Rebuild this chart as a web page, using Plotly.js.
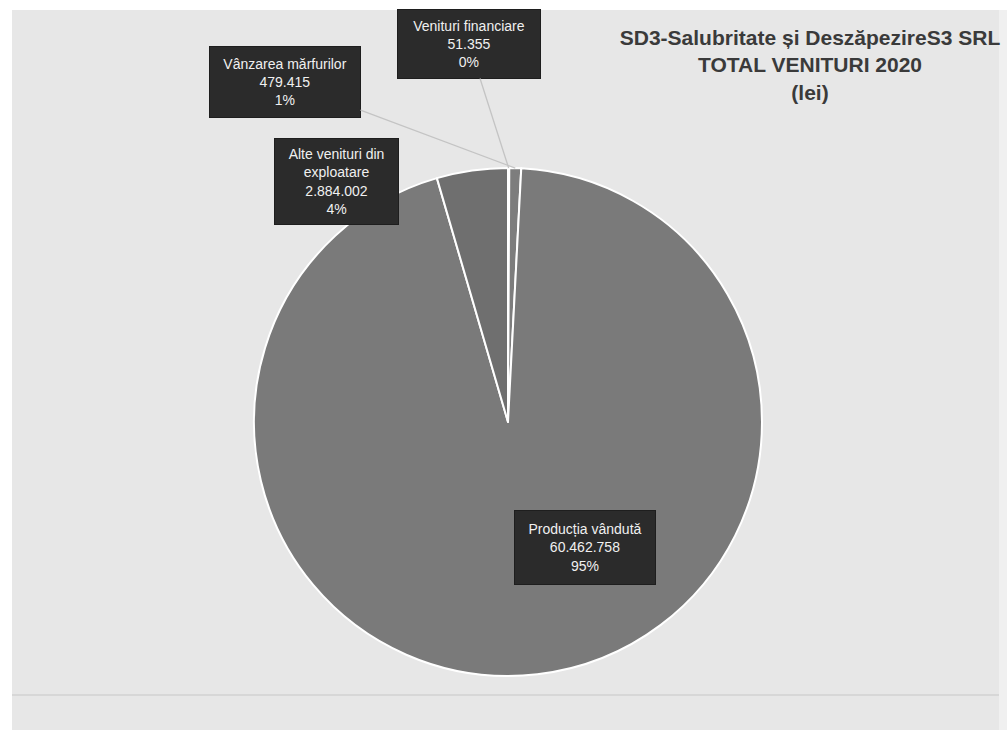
<!DOCTYPE html>
<html>
<head>
<meta charset="utf-8">
<script src="https://cdn.plot.ly/plotly-3.0.1.min.js"></script>
<style>html,body{margin:0;padding:0;background:#fff;}#chart{width:1007px;height:730px;}</style>
</head>
<body>
<div id="chart"></div>
<script>
// Data (clockwise from 12 o'clock)
const categories = ["Venituri financiare", "Vânzarea mărfurilor", "Producția vândută", "Alte venituri din<br>exploatare"];
const values = [51355, 479415, 60462758, 2884002];
const valueLabels = ["51.355", "479.415", "60.462.758", "2.884.002"];
const percentLabels = ["0%", "1%", "95%", "4%"];
const sliceColors = ["#808080", "#7d7d7d", "#7a7a7a", "#6f6f6f"];

const W = 1007, H = 730;
const cxPx = 508, cyPx = 422, rPx = 254;
const domX = [(cxPx - rPx) / W, (cxPx + rPx) / W];
const domY = [1 - (cyPx + rPx) / H, 1 - (cyPx - rPx) / H];

const trace = {
  type: 'pie',
  labels: categories,
  values: values,
  sort: false,
  direction: 'clockwise',
  rotation: 0,
  textinfo: 'none',
  hoverinfo: 'label+value+percent',
  marker: {colors: sliceColors, line: {color: '#ffffff', width: 2}},
  domain: {x: domX, y: domY},
  showlegend: false
};

// label box placement (layout only)
const boxes = [
  {cx: 469, cy: 44, w: 140, h: 66, arrow: true},
  {cx: 285, cy: 82, w: 148, h: 68, arrow: true},
  {cx: 585, cy: 547, w: 138, h: 71, arrow: false},
  {cx: 336, cy: 182, w: 121, h: 83, arrow: false}
];

const total = values.reduce((a, b) => a + b, 0);
let cum = 0;
const annotations = [];
values.forEach((v, i) => {
  const mid = (cum + v / 2) / total * 2 * Math.PI;
  cum += v;
  const px = cxPx + rPx * Math.sin(mid);
  const py = cyPx - rPx * Math.cos(mid);
  const b = boxes[i];
  const text = categories[i] + '<br>' + valueLabels[i] + '<br>' + percentLabels[i];
  const common = {
    text: text,
    font: {family: 'Liberation Sans, Arial, sans-serif', size: 14, color: '#f0f0f0'},
    bgcolor: '#2b2b2b',
    bordercolor: '#1e1e1e',
    borderwidth: 1,
    borderpad: 1,
    width: b.w,
    height: b.h,
    align: 'center',
    valign: 'middle'
  };
  if (b.arrow) {
    annotations.push(Object.assign(common, {
      xref: 'paper', yref: 'paper',
      x: px / W, y: 1 - py / H,
      showarrow: true, arrowhead: 0, arrowwidth: 1.3, arrowcolor: '#c4c4c4',
      axref: 'pixel', ayref: 'pixel',
      ax: b.cx - px, ay: b.cy - py
    }));
  } else {
    annotations.push(Object.assign(common, {
      xref: 'paper', yref: 'paper',
      x: b.cx / W, y: 1 - b.cy / H,
      xanchor: 'center', yanchor: 'middle',
      showarrow: false
    }));
  }
});

const layout = {
  width: W, height: H,
  margin: {l: 0, r: 0, t: 0, b: 0},
  paper_bgcolor: '#ffffff',
  plot_bgcolor: '#e7e7e7',
  title: {
    text: 'SD3-Salubritate și DeszăpezireS3 SRL<br>TOTAL VENITURI 2020<br>(lei)',
    font: {family: 'Liberation Sans, Arial, sans-serif', size: 21, color: '#3a3a3a', weight: 'bold'},
    x: 810 / W, xanchor: 'center', xref: 'paper',
    y: 1 - 45 / H, yanchor: 'middle', yref: 'container'
  },
  shapes: [
    {type: 'rect', xref: 'paper', yref: 'paper', x0: 12 / W, x1: 999 / W, y0: 0, y1: 1 - 10 / H,
     fillcolor: '#e7e7e7', line: {width: 0}, layer: 'below'},
    {type: 'rect', xref: 'paper', yref: 'paper', x0: 999 / W, x1: 1, y0: 0, y1: 1 - 10 / H,
     fillcolor: '#f0f0f0', line: {width: 0}, layer: 'below'},
    {type: 'line', xref: 'paper', yref: 'paper', x0: 12 / W, x1: 999 / W, y0: 1 - 695 / H, y1: 1 - 695 / H,
     line: {color: '#d2d2d2', width: 1.5}, layer: 'below'}
  ],
  annotations: annotations
};

Plotly.newPlot('chart', [trace], layout, {displayModeBar: false, staticPlot: true});
</script>
</body>
</html>
